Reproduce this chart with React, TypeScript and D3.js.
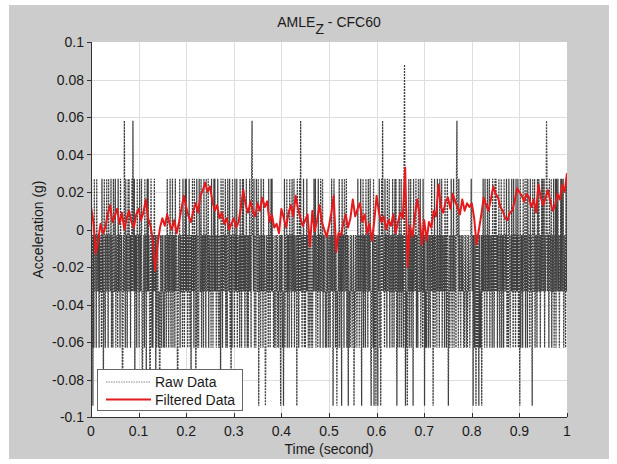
import React from "react";
import * as d3 from "d3";

// Raw data: quantized sensor levels, one char per sample (index into RAW_LEVELS), 1000 samples
const RAW_LEVELS = [-0.094, -0.063, -0.033, -0.003, 0.027, 0.058, 0.088];
const RAW_SEGMENTS = [
  "2413031423" + "3142323132" + "2314230342" + "1324231423" + "3241321432" + "2413231423" + "3142320132" + "5314231342" + "4231324253" + "2403231423",
  "3142324102" + "2314230342" + "4231024213" + "1324230312" + "3212013213" + "2312132312" + "4231324213" + "2413231423" + "3102324132" + "2314231342",
  "4231324213" + "0324231423" + "0241321432" + "2413231423" + "3142324132" + "2314231342" + "4231324213" + "1304231423" + "3241321432" + "2413031423",
  "3142324132" + "2314231342" + "4231324213" + "1324231453" + "3241321432" + "2403231423" + "3142320132" + "2314231342" + "4231213213" + "2312132303",
  "2312024132" + "2413231423" + "3142324132" + "2304231342" + "5231324213" + "1324231312" + "3212313243" + "2413231423" + "3142324132" + "2312132312",
  "3213242302" + "4231320213" + "2413230423" + "3142324132" + "0312132312" + "2302132312" + "4231324203" + "2413231423" + "3142324102" + "2314031302",
  "3203241302" + "4253231423" + "3142324132" + "2314231342" + "4203132413" + "2413231463" + "0312032413" + "2413230423" + "3241321432" + "2413231423",
  "0312132312" + "3213242303" + "2413231423" + "3142324132" + "2314231342" + "0231324213" + "2413231453" + "3142321323" + "2312132312" + "1323212343",
  "2303213203" + "2132031213" + "0324231423" + "3142324132" + "2314231342" + "4231324213" + "2413231423" + "3241321432" + "1324231423" + "3142324132",
  "0413231423" + "2413241423" + "3142320432" + "2413231423" + "4231324243" + "2413235423" + "3142324132" + "2413241423" + "4231324243" + "2413231424",
];

// Filtered data (CFC60), sampled every 0.005 s from 0 to 1
const FILTERED_0 = [0.012, 0.004, -0.013, -0.006, 0.003, -0.002, 0.001, 0.008, 0.013, 0.004, 0.007, 0.011, 0.003, 0.009, 0.0, 0.006, 0.01, 0.004, 0.001, 0.008];
const FILTERED_1 = [0.011, 0.005, 0.009, 0.016, 0.006, 0.002, -0.006, -0.022, -0.008, 0.001, 0.006, 0.002, 0.008, 0.003, 0.0, 0.005, -0.002, 0.004, 0.011, 0.018];
const FILTERED_2 = [0.012, 0.007, 0.004, 0.01, 0.014, 0.009, 0.018, 0.021, 0.025, 0.02, 0.023, 0.015, 0.01, 0.013, 0.006, 0.009, 0.003, 0.006, 0.0, 0.003];
const FILTERED_3 = [0.006, 0.001, 0.004, 0.012, 0.021, 0.013, 0.009, 0.015, 0.01, 0.007, 0.014, 0.01, 0.017, 0.012, 0.015, 0.004, 0.008, 0.001, 0.003, -0.002];
const FILTERED_4 = [0.011, 0.006, 0.001, 0.009, 0.013, 0.007, 0.018, 0.011, 0.006, 0.002, 0.005, 0.008, -0.009, 0.01, -0.001, 0.005, 0.013, 0.004, 0.0, -0.004];
const FILTERED_5 = [0.002, 0.009, 0.018, -0.012, -0.002, -0.003, 0.003, 0.008, 0.001, 0.006, 0.016, 0.007, 0.011, 0.014, 0.004, 0.008, -0.002, 0.003, -0.006, 0.004];
const FILTERED_6 = [0.018, 0.009, 0.004, 0.007, 0.0, 0.005, 0.002, 0.008, -0.002, 0.004, 0.009, 0.006, 0.033, -0.02, 0.002, -0.004, 0.006, 0.016, 0.009, -0.008];
const FILTERED_7 = [0.005, -0.006, 0.004, 0.001, 0.01, 0.007, 0.024, 0.012, 0.009, 0.015, 0.017, 0.011, 0.019, 0.015, 0.012, 0.008, 0.016, 0.01, 0.014, 0.012];
const FILTERED_8 = [0.014, 0.006, -0.008, 0.0, 0.008, 0.017, 0.013, 0.01, 0.016, 0.023, 0.019, 0.017, 0.012, 0.01, 0.006, 0.005, 0.009, 0.01, 0.015, 0.022];
const FILTERED_9 = [0.02, 0.018, 0.015, 0.019, 0.017, 0.012, 0.016, 0.009, 0.024, 0.017, 0.013, 0.017, 0.021, 0.015, 0.01, 0.013, 0.019, 0.016, 0.024, 0.02];
const FILTERED_END = [0.03];

const X_TICKS = [0, 0.1, 0.2, 0.3, 0.4, 0.5, 0.6, 0.7, 0.8, 0.9, 1];
const X_TICK_LABELS = ["0", "0.1", "0.2", "0.3", "0.4", "0.5", "0.6", "0.7", "0.8", "0.9", "1"];
const Y_TICKS = [-0.1, -0.08, -0.06, -0.04, -0.02, 0, 0.02, 0.04, 0.06, 0.08, 0.1];
const Y_TICK_LABELS = ["-0.1", "-0.08", "-0.06", "-0.04", "-0.02", "0", "0.02", "0.04", "0.06", "0.08", "0.1"];

const TITLE_MAIN = "AMLE";
const TITLE_SUB = "Z";
const TITLE_REST = " - CFC60";
const X_LABEL = "Time (second)";
const Y_LABEL = "Acceleration (g)";
const LEGEND_LABELS = ["Raw Data", "Filtered Data"];

const W = 617;
const H = 464;
const M = { left: 91, right: 567, top: 42, bottom: 417 };
const FONT = "'Liberation Sans', Arial, Helvetica, sans-serif";

export default function App() {
  const rawStr = RAW_SEGMENTS.join("");
  const rawN = rawStr.length;
  const raw = Array.from(rawStr).map((c, i) => ({ t: i / (rawN - 1), v: RAW_LEVELS[+c] }));
  const filteredVals = [
    ...FILTERED_0, ...FILTERED_1, ...FILTERED_2, ...FILTERED_3, ...FILTERED_4,
    ...FILTERED_5, ...FILTERED_6, ...FILTERED_7, ...FILTERED_8, ...FILTERED_9, ...FILTERED_END,
  ];
  const fN = filteredVals.length;
  const filtered = filteredVals.map((v, i) => ({ t: i / (fN - 1), v }));

  const x = d3.scaleLinear().domain([0, 1]).range([M.left, M.right]);
  const y = d3.scaleLinear().domain([-0.1, 0.1]).range([M.bottom, M.top]);
  const line = d3
    .line<{ t: number; v: number }>()
    .x((d) => x(d.t))
    .y((d) => y(d.v));

  const cx = (M.left + M.right) / 2;
  const cy = (M.top + M.bottom) / 2;

  return (
    <svg
      width={W}
      height={H}
      style={{ position: "absolute", left: 0, top: 0, background: "#ffffff" }}
      fontFamily={FONT}
    >
      <rect x={9} y={5} width={600} height={454} fill="#cccccc" />
      <defs>
        <clipPath id="plotclip">
          <rect x={M.left} y={M.top} width={M.right - M.left} height={M.bottom - M.top} />
        </clipPath>
      </defs>
      <rect x={M.left} y={M.top} width={M.right - M.left} height={M.bottom - M.top} fill="#ffffff" />
      {/* grid */}
      <g stroke="#dedede" strokeWidth={1}>
        {X_TICKS.slice(1, -1).map((t) => (
          <line key={"gx" + t} x1={Math.round(x(t)) + 0.5} x2={Math.round(x(t)) + 0.5} y1={M.top} y2={M.bottom} />
        ))}
        {Y_TICKS.slice(1, -1).map((t) => (
          <line key={"gy" + t} y1={Math.round(y(t)) + 0.5} y2={Math.round(y(t)) + 0.5} x1={M.left} x2={M.right} />
        ))}
      </g>
      <g clipPath="url(#plotclip)">
        <path d={line(raw) || ""} fill="none" stroke="#404040" strokeWidth={1.25} strokeDasharray="2,1" />
        <path d={line(filtered) || ""} fill="none" stroke="#e41a1c" strokeWidth={2} strokeLinejoin="round" />
      </g>
      {/* axes */}
      <g stroke="#333" strokeWidth={1}>
        <line x1={M.left + 0.5} x2={M.left + 0.5} y1={M.top} y2={M.bottom + 0.5} />
        <line x1={M.left} x2={M.right} y1={M.bottom + 0.5} y2={M.bottom + 0.5} />
        {X_TICKS.map((t) => (
          <line key={"tx" + t} x1={Math.round(x(t)) + 0.5} x2={Math.round(x(t)) + 0.5} y1={M.bottom} y2={M.bottom - 4} />
        ))}
        {Y_TICKS.map((t) => (
          <line key={"ty" + t} y1={Math.round(y(t)) + 0.5} y2={Math.round(y(t)) + 0.5} x1={M.left} x2={M.left - 4} />
        ))}
      </g>
      <g fontSize={14} fill="#1a1a1a">
        {X_TICKS.map((t, i) => (
          <text key={"lx" + t} x={x(t)} y={M.bottom + 19} textAnchor="middle">
            {X_TICK_LABELS[i]}
          </text>
        ))}
        {Y_TICKS.map((t, i) => (
          <text key={"ly" + t} x={M.left - 7} y={y(t) + 5} textAnchor="end">
            {Y_TICK_LABELS[i]}
          </text>
        ))}
        <text x={cx} y={454} textAnchor="middle">{X_LABEL}</text>
        <text transform={`translate(43,${cy}) rotate(-90)`} textAnchor="middle">{Y_LABEL}</text>
        <text x={cx} y={27} textAnchor="middle">
          {TITLE_MAIN}
          <tspan dy={7} fontSize={14}>{TITLE_SUB}</tspan>
          <tspan dy={-7}>{TITLE_REST}</tspan>
        </text>
      </g>
      {/* legend */}
      <g>
        <rect x={97.5} y={369.5} width={145} height={41} fill="#ffffff" stroke="#666" strokeWidth={1} />
        <line x1={106} x2={151} y1={382} y2={382} stroke="#888" strokeWidth={1} strokeDasharray="1.5,1" />
        <line x1={106} x2={151} y1={399.5} y2={399.5} stroke="#e41a1c" strokeWidth={2} />
        <text x={155} y={387} fontSize={14} fill="#1a1a1a">{LEGEND_LABELS[0]}</text>
        <text x={155} y={404.5} fontSize={14} fill="#1a1a1a">{LEGEND_LABELS[1]}</text>
      </g>
    </svg>
  );
}
